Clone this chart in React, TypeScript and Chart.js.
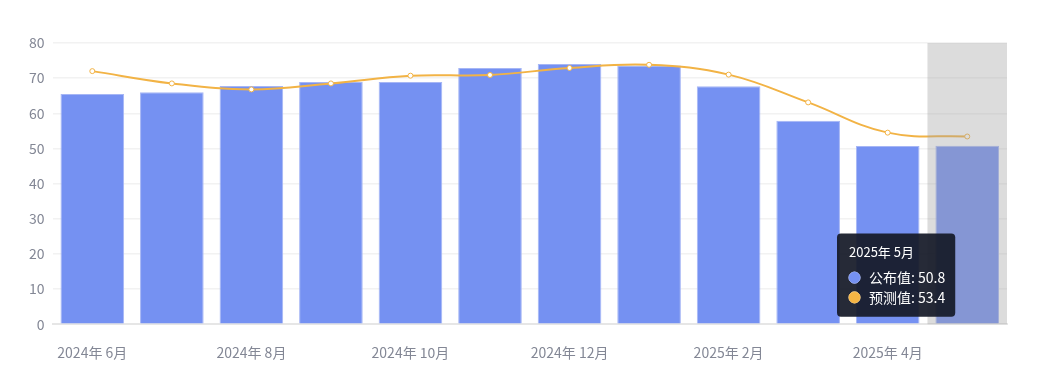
import React, { useEffect, useRef } from "react";
import { Chart, registerables, Tooltip } from "chart.js";

Chart.register(...registerables);

const categories = [
  "2024年 6月", "2024年 7月", "2024年 8月", "2024年 9月", "2024年 10月", "2024年 11月",
  "2024年 12月", "2025年 1月", "2025年 2月", "2025年 3月", "2025年 4月", "2025年 5月",
];
const publishedValues = [65.5, 66.0, 67.8, 68.9, 68.9, 72.9, 74.0, 73.6, 67.7, 57.9, 50.7, 50.8];
const forecastValues = [72.0, 68.5, 66.8, 68.5, 70.7, 70.9, 72.9, 73.8, 71.0, 63.1, 54.5, 53.4];
const yTicks = [0, 10, 20, 30, 40, 50, 60, 70, 80];
const activeIndex = 11;

const FONT = "'Noto Sans CJK SC', 'Noto Sans', sans-serif";

(Tooltip as any).positioners.besideBar = function (elements: any[]) {
  if (!elements.length) return false;
  const chart = (this as any).chart;
  const el = elements[0].element;
  return {
    x: el.x - 12,
    y: chart.chartArea.bottom - 49,
    xAlign: "right",
    yAlign: "center",
  };
};

const bandPlugin = {
  id: "hoverBand",
  afterDatasetsDraw(chart: any) {
    const { ctx, chartArea } = chart;
    const xScale = chart.scales.x;
    const step = (chartArea.right - chartArea.left) / categories.length;
    const cx = xScale.getPixelForValue(activeIndex);
    ctx.save();
    ctx.fillStyle = "rgba(160,160,160,0.37)";
    ctx.fillRect(cx - step / 2, chartArea.top, step, chartArea.bottom - chartArea.top);
    ctx.restore();
  },
};

export default function App() {
  const ref = useRef<HTMLCanvasElement>(null);
  useEffect(() => {
    if (!ref.current) return;
    const chart = new Chart(ref.current, {
      type: "bar",
      data: {
        labels: categories,
        datasets: [
          {
            type: "line",
            label: "预测值",
            data: forecastValues,
            borderColor: "#f2b345",
            backgroundColor: "#f5b544",
            borderWidth: 2,
            tension: 0.4,
            pointRadius: 2.5,
            pointHoverRadius: 2.5,
            pointBackgroundColor: "#ffffff",
            pointBorderColor: "#f2b345",
            pointBorderWidth: 1,
            pointHoverBackgroundColor: "#ffffff",
            pointHoverBorderColor: "#f2b345",
            pointHoverBorderWidth: 1,
            order: 0,
          } as any,
          {
            type: "bar",
            label: "公布值",
            data: publishedValues,
            backgroundColor: "#7591f2",
            hoverBackgroundColor: "#7591f2",
            borderColor: "#a6b6f5",
            hoverBorderColor: "#a6b6f5",
            borderWidth: 1,
            categoryPercentage: 0.8,
            barPercentage: 1,
            order: 1,
          },
        ],
      },
      options: {
        animation: false,
        responsive: true,
        maintainAspectRatio: false,
        events: [],
        layout: { padding: { left: 13, right: 23, top: 35, bottom: -5 } },
        scales: {
          x: {
            grid: { display: false, drawTicks: false },
            border: { display: true, color: "#e6e6e6", width: 2 },
            ticks: {
              autoSkip: false,
              maxRotation: 0,
              padding: 20,
              color: "#838795",
              font: { family: FONT, size: 14 },
              callback: (v: any, i: number) => (i % 2 === 0 ? categories[i] : ""),
            },
          },
          y: {
            min: yTicks[0],
            max: yTicks[yTicks.length - 1],
            afterBuildTicks: (axis: any) => {
              axis.ticks = yTicks.map((v) => ({ value: v }));
            },
            grid: { color: "#f2f2f2", drawTicks: false, lineWidth: 1.5 },
            border: { display: false },
            ticks: {
              padding: 8,
              color: "#838795",
              font: { family: FONT, size: 14 },
            },
          },
        },
        plugins: {
          legend: { display: false },
          tooltip: {
            enabled: true,
            position: "besideBar" as any,
            mode: "index",
            intersect: false,
            backgroundColor: "rgba(22,26,40,0.93)",
            titleColor: "#ffffff",
            bodyColor: "#ffffff",
            titleFont: { family: FONT, size: 13, weight: "normal" },
            bodyFont: { family: FONT, size: 14 },
            titleMarginBottom: 9,
            bodySpacing: 3,
            padding: { left: 12, right: 10, top: 11, bottom: 11 },
            cornerRadius: 4,
            caretSize: 0,
            caretPadding: 0,
            displayColors: true,
            usePointStyle: true,
            boxWidth: 11,
            boxHeight: 11,
            boxPadding: 7,
            itemSort: (a: any, b: any) => b.datasetIndex - a.datasetIndex,
            callbacks: {
              label: (c: any) => `${c.dataset.label}: ${c.parsed.y}`,
              labelColor: (c: any) => ({
                borderColor: c.datasetIndex === 1 ? "#7591f2" : "#f5b544",
                backgroundColor: c.datasetIndex === 1 ? "#7591f2" : "#f5b544",
                borderWidth: 0,
              }),
              labelPointStyle: () => ({ pointStyle: "circle", rotation: 0 }),
            },
          },
        },
      },
      plugins: [bandPlugin],
    });
    const active = [
      { datasetIndex: 1, index: activeIndex },
      { datasetIndex: 0, index: activeIndex },
    ];
    const meta = chart.getDatasetMeta(1);
    const el: any = meta.data[activeIndex];
    chart.tooltip!.setActiveElements(active, { x: el.x, y: el.y });
    chart.update();
    return () => chart.destroy();
  }, []);
  return (
    <div style={{ width: 1022, height: 368 }}>
      <canvas ref={ref} />
    </div>
  );
}
